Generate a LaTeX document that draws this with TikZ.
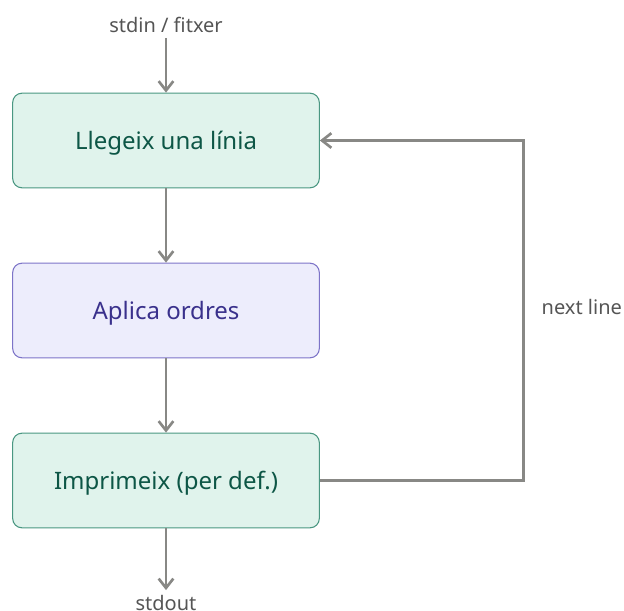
\documentclass[tikz,border=0pt]{standalone}
\usepackage{fontspec}
\setmainfont{Noto Sans}
\usetikzlibrary{
    arrows.meta,
    positioning
}
\definecolor{readfill}{HTML}{E0F3EC}
\definecolor{readdraw}{HTML}{4A9782}
\definecolor{readtext}{HTML}{0D5646}
\definecolor{cmdfill}{HTML}{EDEDFC}
\definecolor{cmddraw}{HTML}{7D74C8}
\definecolor{cmdtext}{HTML}{3A318C}
\definecolor{flowgray}{HTML}{888885}
\definecolor{labelgray}{HTML}{555555}

\begin{document}
\begin{tikzpicture}[
        x=0.75pt, y=-0.75pt,
        box/.style={rectangle, rounded corners=7pt, draw, line width=0.8pt, minimum width=230pt, minimum height=71pt, text depth=0pt, align=center, font=\fontsize{18}{22}\selectfont},
        io/.style={text=labelgray, font=\fontsize{15}{18}\selectfont},
        arrow/.style={-{Straight Barb[length=7pt, width=11pt, line width=2pt]}, draw=flowgray, line width=2.2pt}
    ]
        \useasboundingbox (0,0) rectangle (624,610);

        \node[io, anchor=base] (src) at (166,33) {stdin / fitxer};
        \node[box, fill=readfill, draw=readdraw, text=readtext] (read) at (166,140.5) {Llegeix una línia};
        \node[box, fill=cmdfill, draw=cmddraw, text=cmdtext] (apply) at (166,310.5) {Aplica ordres};
        \node[box, fill=readfill, draw=readdraw, text=readtext] (print) at (166,480.5) {Imprimeix (per def.)};
        \node[io, anchor=base] (dst) at (166,610) {stdout};
        \node[io, anchor=base west] (nextlbl) at (537,314) {next line};

        \draw[arrow] (src) -- (read);
        \draw[arrow] (read) -- (apply);
        \draw[arrow] (apply) -- (print);
        \draw[arrow] (print) -- (dst);
        \draw[arrow] (print.east) -- ++(204,0) |- (read.east);
    \end{tikzpicture}
\end{document}
